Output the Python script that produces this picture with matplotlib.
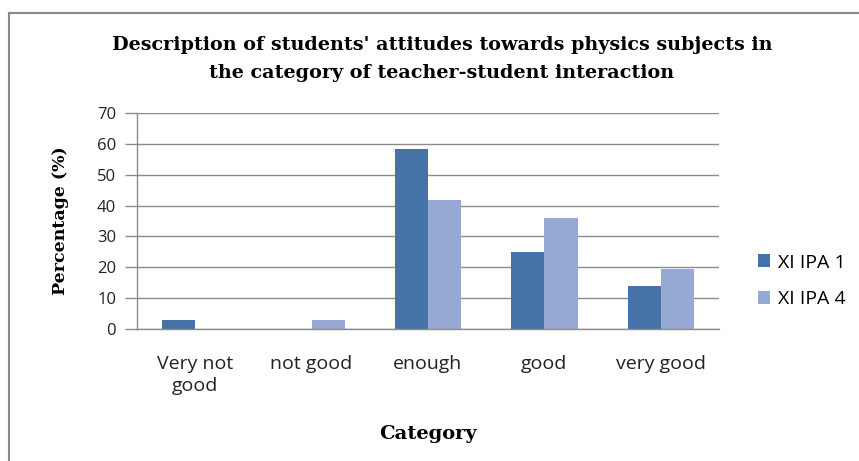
import numpy as np
import matplotlib
matplotlib.use("Agg")
import matplotlib.pyplot as plt
from matplotlib.lines import Line2D

# data
categories = ["Very not\ngood", "not good", "enough", "good", "very good"]
xi_ipa_1 = [2.78, 0, 58.33, 25.0, 13.89]
xi_ipa_4 = [0, 2.78, 41.67, 36.11, 19.44]
series_names = ["XI IPA 1", "XI IPA 4"]
colors = ["#4572A7", "#95A9D2"]
grid_col = "#8c8c8c"

fig = plt.figure(figsize=(8.59, 4.61), dpi=100)
ax = fig.add_axes([137 / 859, 1 - 329 / 461, (719 - 137) / 859, (329 - 113) / 461])

x = np.arange(len(categories))
w = 0.285
ax.bar(x - w / 2, xi_ipa_1, w, color=colors[0], label=series_names[0])
ax.bar(x + w / 2, xi_ipa_4, w, color=colors[1], label=series_names[1])

ax.set_xlim(-0.5, len(categories) - 0.5)
ax.set_ylim(0, 70)
ax.set_yticks(range(0, 71, 10))
ax.set_xticks(x)
ax.set_xticklabels(categories, fontfamily="Open Sans", fontsize=14, color="#222222",
                   linespacing=1.25)
for t in ax.get_yticklabels():
    t.set_fontfamily("Open Sans")
    t.set_fontsize(12)
    t.set_color("#222222")
ax.tick_params(axis="x", length=0, pad=19)
ax.tick_params(axis="y", length=9, width=1, color=grid_col, pad=6)

ax.grid(axis="y", color=grid_col, linewidth=1)
ax.set_axisbelow(True)
for s in ["top", "right"]:
    ax.spines[s].set_visible(False)
for s in ["left", "bottom"]:
    ax.spines[s].set_color(grid_col)
    ax.spines[s].set_linewidth(1)

ax.set_ylabel("Percentage (%)", fontfamily="DejaVu Serif", fontweight="bold",
              fontsize=12.5, labelpad=20)
ax.set_xlabel("Category", fontfamily="DejaVu Serif", fontweight="bold",
              fontsize=14, labelpad=22)

fig.text(442 / 859, 1 - 59 / 461,
         "Description of students' attitudes towards physics subjects in\n"
         "the category of teacher-student interaction",
         ha="center", va="center", fontfamily="DejaVu Serif", fontweight="bold",
         fontsize=13.8, linespacing=1.75)

leg = fig.legend(loc="center left", bbox_to_anchor=(740 / 859, 1 - 281 / 461),
                 frameon=False, prop={"family": "Open Sans", "size": 14},
                 handlelength=0.65, handleheight=0.65, handletextpad=0.4,
                 labelspacing=0.95)

# outer border of the chart box
fig.add_artist(Line2D([9 / 859, 9 / 859], [0, 1 - 13 / 461], transform=fig.transFigure,
                      color="#8a8a8a", linewidth=1.5))
fig.add_artist(Line2D([9 / 859, 1], [1 - 13 / 461, 1 - 13 / 461], transform=fig.transFigure,
                      color="#8a8a8a", linewidth=1.5))

fig.savefig("out.png", dpi=100)
